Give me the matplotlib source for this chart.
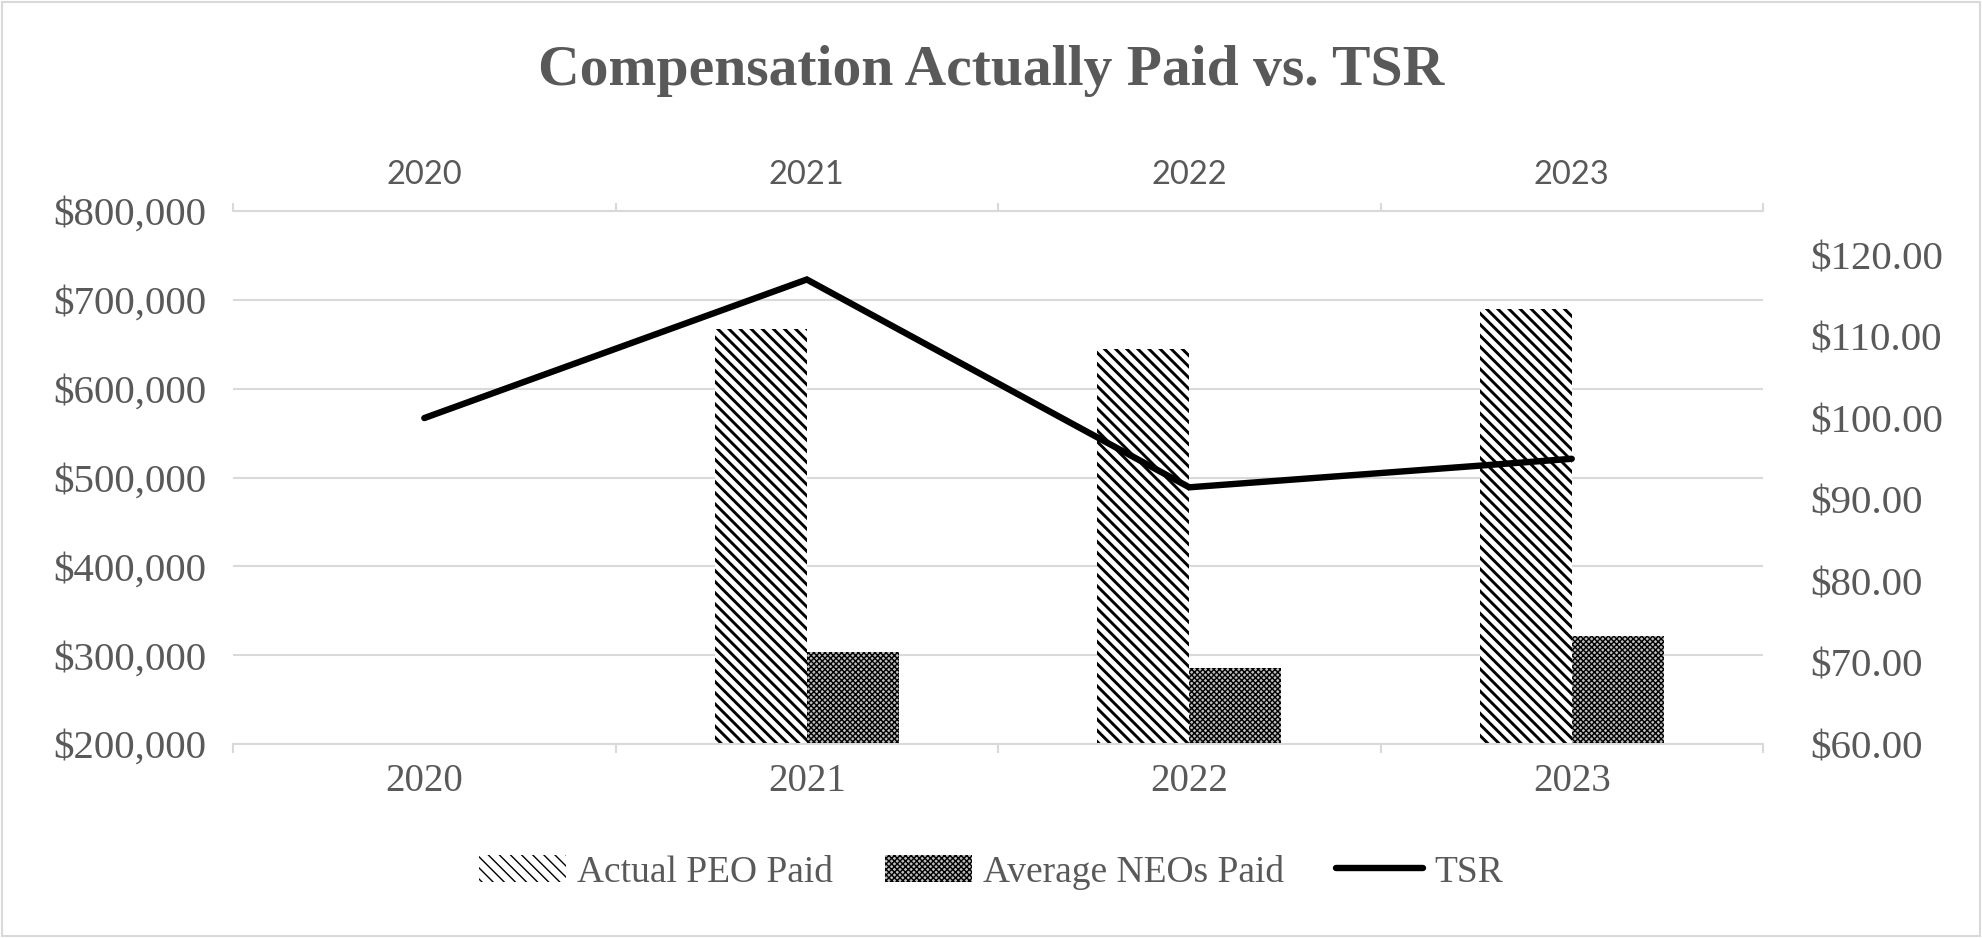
import numpy as np
import matplotlib
matplotlib.use("Agg")
import matplotlib.pyplot as plt
from matplotlib.patches import Patch, Rectangle
from matplotlib.lines import Line2D
from matplotlib.ticker import FuncFormatter

# ---- data ----
years = ["2020", "2021", "2022", "2023"]
peo_paid = [None, 667000, 645000, 690000]
neo_paid = [None, 304000, 286000, 322000]
tsr = [100.0, 117.0, 91.5, 95.0]
left_ticks = [200000, 300000, 400000, 500000, 600000, 700000, 800000]
right_ticks = [60, 70, 80, 90, 100, 110, 120]

TXT = "#595959"
GRID = "#d9d9d9"
SERIF = "Liberation Serif"
PEO_HATCH = "\\\\\\"
NEO_HATCH = "xxxxxx"
PEO_HLW = 2.1
NEO_HLW = 1.0

fig = plt.figure(figsize=(19.82, 9.38), dpi=100)
fig.patch.set_facecolor("white")
ax = fig.add_axes([0.1176, 0.2068, 0.7719, 0.5682])

x = np.arange(len(years))
peo = np.array([np.nan if v is None else v for v in peo_paid], dtype=float)
neo = np.array([np.nan if v is None else v for v in neo_paid], dtype=float)
w = 0.24


def set_hlw(patches, lw):
    for p in patches:
        if hasattr(p, "set_hatch_linewidth"):
            p.set_hatch_linewidth(lw)


with plt.rc_context({"hatch.linewidth": PEO_HLW}):
    b1 = ax.bar(x - w / 2, peo, width=w, facecolor="white", edgecolor="black",
                linewidth=0, hatch=PEO_HATCH, zorder=2)
set_hlw(b1, PEO_HLW)
with plt.rc_context({"hatch.linewidth": NEO_HLW}):
    b2 = ax.bar(x + w / 2, neo, width=w, facecolor="#bdbdbd", edgecolor="black",
                linewidth=0, hatch=NEO_HATCH, zorder=2)
set_hlw(b2, NEO_HLW)

ax.set_xlim(-0.5, len(years) - 0.5)
ax.set_ylim(200000, 800000)
ax.set_yticks(left_ticks)
ax.yaxis.set_major_formatter(FuncFormatter(lambda v, p: "${:,.0f}".format(v)))
ax.yaxis.grid(True, color=GRID, linewidth=1.5)
ax.set_axisbelow(True)
ax.tick_params(axis="y", length=0, pad=19, labelsize=29.5, labelcolor=TXT)
for lbl in ax.get_yticklabels():
    lbl.set_fontfamily(SERIF)

ax.set_xticks(x)
ax.set_xticklabels(years, fontfamily=SERIF, fontsize=28, color=TXT)
ax.set_xticks(np.arange(-0.5, len(years), 1.0), minor=True)
ax.tick_params(axis="x", which="major", length=0, pad=14)
ax.tick_params(axis="x", which="minor", length=6.5, width=1.5, color=GRID, direction="out")

for s in ["left", "right", "top"]:
    ax.spines[s].set_visible(False)
ax.spines["bottom"].set_color(GRID)
ax.spines["bottom"].set_linewidth(1.5)

# top category axis
sec = ax.secondary_xaxis("top")
sec.set_xticks(x)
sec.set_xticklabels(years, fontfamily="Lato", fontsize=23.5, color=TXT)
sec.set_xticks(np.arange(-0.5, len(years), 1.0), minor=True)
sec.tick_params(axis="x", which="major", length=0, pad=15)
sec.tick_params(axis="x", which="minor", length=6, width=1.5, color=GRID, direction="out")
sec.spines["top"].set_color(GRID)
sec.spines["top"].set_linewidth(1.5)

# TSR on secondary axis
ax2 = ax.twinx()
ax2.plot(x, tsr, color="black", linewidth=4.6, solid_capstyle="round",
         solid_joinstyle="miter", zorder=3)
ax2.set_ylim(60, 125.4)
ax2.set_yticks(right_ticks)
ax2.yaxis.set_major_formatter(FuncFormatter(lambda v, p: "${:.2f}".format(v)))
ax2.tick_params(axis="y", length=0, pad=34, labelsize=29.5, labelcolor=TXT)
for lbl in ax2.get_yticklabels():
    lbl.set_fontfamily(SERIF)
for s in ax2.spines.values():
    s.set_visible(False)

# title
fig.text(0.5, 1 - 71 / 938, "Compensation Actually Paid vs. TSR", ha="center", va="center",
         fontfamily=SERIF, fontweight="bold", fontsize=41.5, color=TXT)

# legend
with plt.rc_context({"hatch.linewidth": PEO_HLW}):
    h1 = Patch(facecolor="white", edgecolor="black", linewidth=0, hatch=PEO_HATCH)
set_hlw([h1], PEO_HLW)
with plt.rc_context({"hatch.linewidth": NEO_HLW}):
    h2 = Patch(facecolor="#bdbdbd", edgecolor="black", linewidth=0, hatch=NEO_HATCH)
set_hlw([h2], NEO_HLW)
h3 = Line2D([0], [0], color="black", linewidth=4.6, solid_capstyle="round")
leg = fig.legend([h1, h2, h3], ["Actual PEO Paid", "Average NEOs Paid", "TSR"],
                 loc="center", bbox_to_anchor=(0.5, 1 - 872 / 938), ncol=3, frameon=False,
                 prop={"family": SERIF, "size": 27}, labelcolor=TXT,
                 handlelength=2.3, handleheight=0.7, handletextpad=0.3, columnspacing=1.4)

# chart border
fig.add_artist(Rectangle((0.0012, 0.002), 0.9976, 0.996, transform=fig.transFigure,
                         fill=False, edgecolor=GRID, linewidth=1.5))

fig.savefig("out.png", dpi=100, facecolor="white")
